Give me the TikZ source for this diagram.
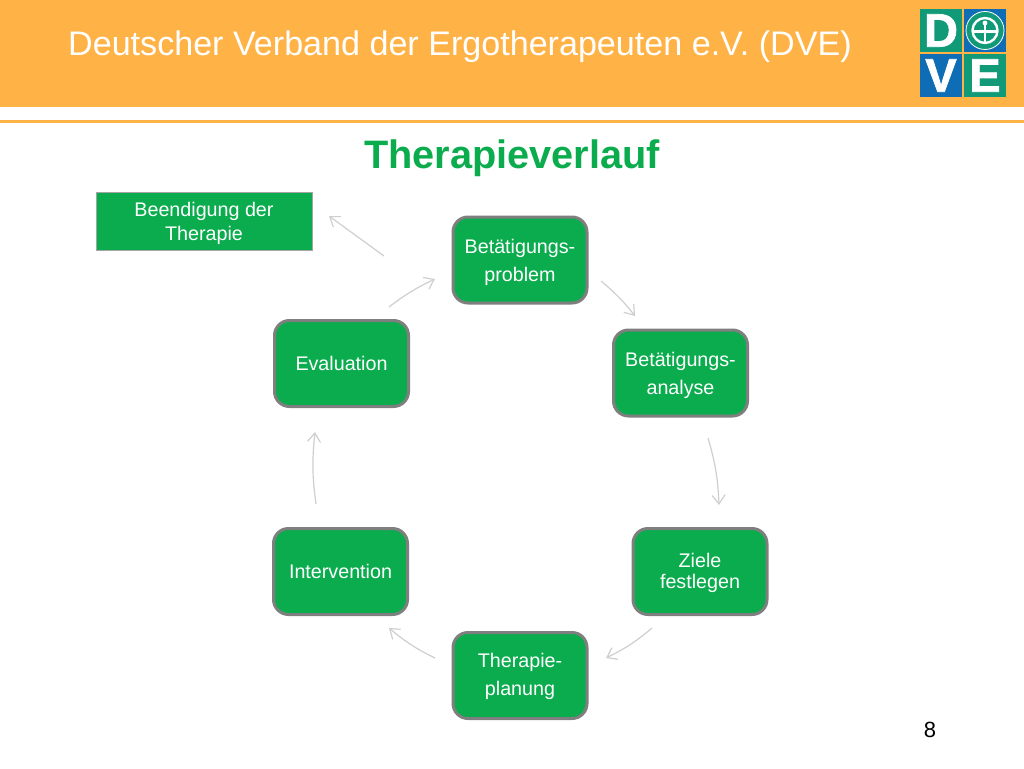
\documentclass[tikz,border=0pt]{standalone}
\usepackage{fontspec}
\setmainfont{Liberation Sans}
\newfontfamily\logofont[BoldFeatures={FakeBold=1.5}]{Liberation Sans}
\usetikzlibrary{arrows.meta,bending}
\definecolor{headorange}{HTML}{FFB347}
\definecolor{boxgreen}{HTML}{0BAC4E}
\definecolor{titlegreen}{HTML}{0BAC4E}
\definecolor{boxgray}{HTML}{7F7F7F}
\definecolor{arrowgray}{HTML}{CFCFCF}
\definecolor{logogreen}{HTML}{109A78}
\definecolor{logoblue}{HTML}{0F6DB5}
\newcommand{\toppad}[1]{\rule{0pt}{#1pt}}
\tikzset{
  procbox/.style={draw=boxgray,line width=3pt,fill=boxgreen,rounded corners=15pt,text=white,
    minimum width=134pt,minimum height=86pt,align=center,inner sep=0pt,font=\fontsize{19.7}{28}\selectfont},
  tightbox/.style={procbox,font=\fontsize{19.7}{21}\selectfont},
  endbox/.style={draw=boxgray!70,line width=0.8pt,fill=boxgreen,text=white,minimum width=216pt,minimum height=58pt,
    align=center,inner sep=0pt,font=\fontsize{19.7}{23.5}\selectfont},
  flow/.style={draw=arrowgray,line width=1.2pt,-{Straight Barb[length=9pt,width=13pt,bend]}},
  logosq/.style={minimum width=42pt,minimum height=43pt,inner sep=0pt,text=white,font=\logofont\fontsize{47}{47}\bfseries\selectfont},
}
\begin{document}
\begin{tikzpicture}[x=1pt,y=-1pt]
\useasboundingbox (0,0) rectangle (1024,768);
\fill[white] (0,0) rectangle (1024,768);
\fill[headorange] (0,0) rectangle (1024,107);
\fill[headorange] (0,120) rectangle (1024,123);
\node[text=white,anchor=west,inner sep=0pt,font=\fontsize{34.1}{40}\selectfont] (head) at (68,47) {Deutscher Verband der Ergotherapeuten e.V. (DVE)};
\node[text=titlegreen,inner sep=0pt,font=\fontsize{39.7}{44}\bfseries\selectfont] (title) at (512,158) {Therapieverlauf};
\node[logosq,fill=logogreen] (ld) at (941,30.5) {D};
\node[logosq,fill=logoblue] (lc) at (985,30.5) {};
\node[logosq,fill=logoblue] (lv) at (941,75.5) {V};
\node[logosq,fill=logogreen] (le) at (985,75.5) {E};
\draw[white,line width=0.8pt,fill=logogreen] (lc.center) circle (19);
\draw[white,line width=2.4pt] (lc.center) circle (12.5);
\draw[white,line width=2.4pt] (lc.center)+(-12,1) -- +(12,1);
\draw[white,line width=2.8pt] (lc.center)+(0,-5) -- +(0,12);
\fill[white] (lc.center)+(0,-7.5) circle (2.4);
\node[endbox] (end) at (204,221) {\toppad{19}Beendigung der\\Therapie};
\node[procbox] (prob) at (520,260) {\toppad{20}Betätigungs-\\problem};
\node[procbox] (anal) at (680.5,373) {\toppad{20}Betätigungs-\\analyse};
\node[tightbox] (ziele) at (700,571.5) {\toppad{17}Ziele\\festlegen};
\node[procbox] (plan) at (520,675.5) {\toppad{16}Therapie-\\planung};
\node[procbox] (inter) at (340.5,571.5) {Intervention};
\node[procbox] (eval) at (341.5,363.5) {Evaluation};
\coordinate (s0) at (601,281); \coordinate (e0) at (635,316);
\coordinate (s1) at (708,438); \coordinate (e1) at (719,505);
\coordinate (s2) at (652,628); \coordinate (e2) at (606,658);
\coordinate (s3) at (435,658); \coordinate (e3) at (389,628);
\coordinate (s4) at (316,504); \coordinate (e4) at (315,432);
\coordinate (s5) at (389,307); \coordinate (e5) at (435,279);
\coordinate (s6) at (384,256); \coordinate (e6) at (329,216);
\draw[flow] (s0) to[bend left=6] (e0);
\draw[flow] (s1) to[bend left=7] (e1);
\draw[flow] (s2) to[bend left=7] (e2);
\draw[flow] (s3) to[bend left=7] (e3);
\draw[flow] (s4) to[bend left=7] (e4);
\draw[flow] (s5) to[bend left=6] (e5);
\draw[flow] (s6) -- (e6);
\node[inner sep=0pt,font=\fontsize{22}{26}\selectfont] (page) at (930,730) {8};
\end{tikzpicture}
\end{document}
